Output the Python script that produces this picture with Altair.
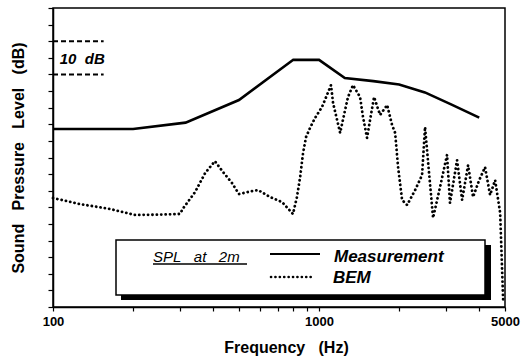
import altair as alt
import pandas as pd

# Measurement (solid)
meas_f = [100, 200, 315, 500, 800, 1000, 1250, 1600, 2000, 2500, 3150, 4000]
meas_db = [53.6, 53.6, 55.5, 62.3, 74.4, 74.4, 68.9, 68.0, 67.0, 64.6, 60.9, 57.0]

# BEM (dotted)
bem_f = [100, 126, 164, 203, 250, 300, 309, 342, 373, 406, 436, 471, 500, 560, 590,
         654, 726, 798, 826, 849, 871, 894, 925, 966, 1026, 1071, 1109, 1129, 1169,
         1200, 1253, 1285, 1342, 1426, 1463, 1515, 1555, 1610, 1696, 1803, 1881,
         1932, 1982, 2052, 2143, 2297, 2439, 2503, 2580, 2683, 2850, 3028, 3106,
         3302, 3450, 3633, 3793, 3990, 4207, 4395, 4590, 4795, 4920]
bem_db = [32.8, 31.0, 29.5, 27.7, 27.8, 28.0, 29.8, 34.6, 40.3, 43.9, 40.6, 37.3, 34.0,
          34.9, 35.2, 33.1, 31.6, 28.0, 33.1, 39.1, 46.4, 51.2, 53.9, 56.9, 60.2, 63.8,
          66.8, 61.4, 56.3, 52.4, 59.3, 63.2, 66.8, 63.2, 57.2, 50.9, 56.3, 63.2, 57.8,
          60.8, 54.8, 52.4, 42.1, 32.2, 30.7, 35.2, 39.7, 54.2, 42.0, 26.8, 36.1, 45.8,
          31.3, 44.2, 32.2, 42.7, 33.1, 38.0, 42.1, 33.7, 38.2, 28.3, 2.1]

# 10 dB scale marker
marker_db = [80, 70]
marker_f = [100, 155]

x_ticks = [100, 200, 300, 400, 500, 600, 700, 800, 900,
           1000, 2000, 3000, 4000, 5000]
x_labels = [100, 1000, 5000]
y_ticks = list(range(0, 91, 5))

NB = "\u00a0"
meas = pd.DataFrame({"f": meas_f, "db": meas_db})
bem = pd.DataFrame({"f": bem_f, "db": bem_db})
marker = pd.DataFrame({"f": [marker_f[0]] * 2, "f2": [marker_f[1]] * 2, "db": marker_db})
marker_txt = pd.DataFrame({"f": [106], "db": [74.6], "t": ["10" + NB + NB + "dB"]})

FONT = "Liberation Sans"
SP3 = NB * 3

X = alt.X("f:Q",
          scale=alt.Scale(type="log", domain=[100, 5000], nice=False),
          axis=alt.Axis(values=x_ticks, title="Frequency" + SP3 + "(Hz)",
                        labelExpr="indexof([100,1000,5000], datum.value) >= 0 ? datum.value : ''",
                        grid=False, tickSize=4, labelPadding=4, labelFont=FONT,
                        labelFontSize=13, labelFontWeight="bold", labelColor="black",
                        tickColor="black", domainColor="black", domainWidth=1.5,
                        tickWidth=1.2, titleFont=FONT, titleFontSize=16,
                        titleFontWeight="bold", titleColor="black",
                        titleX=233, titleY=45, titleBaseline="alphabetic",
                        labelFlush=False, labelOverlap=False))
Y = alt.Y("db:Q",
          scale=alt.Scale(domain=[0, 90], nice=False),
          axis=alt.Axis(values=y_ticks, labels=False, grid=False, tickSize=5,
                        tickColor="black", domainColor="black", domainWidth=1.5,
                        tickWidth=1.2,
                        title="Sound" + SP3 + "Pressure" + SP3 + "Level" + SP3 + "(dB)",
                        titleFont=FONT, titleFontSize=16, titleFontWeight="bold",
                        titleColor="black", titlePadding=21))

meas_line = alt.Chart(meas).mark_line(color="black", strokeWidth=2.6).encode(x=X, y=Y)
bem_line = alt.Chart(bem).mark_line(color="black", strokeWidth=2.8, strokeDash=[0.1, 4.3],
                                    strokeCap="round").encode(x=X, y=Y)
marker_rules = alt.Chart(marker).mark_rule(color="black", strokeWidth=2,
                                           strokeDash=[5, 3]).encode(x=X, x2="f2:Q", y=Y)
marker_text = alt.Chart(marker_txt).mark_text(font=FONT, fontSize=15, fontWeight="bold",
                                              fontStyle="italic", align="left",
                                              baseline="middle", color="black").encode(
    x=X, y=Y, text="t:N")

one = pd.DataFrame({"a": [0]})
# Legend box (annotation in pixel space)
shadow = alt.Chart(one).mark_rect(color="black").encode(
    x=alt.value(68), x2=alt.value(438), y=alt.value(237), y2=alt.value(292))
box = alt.Chart(one).mark_rect(fill="white", stroke="black", strokeWidth=1.5).encode(
    x=alt.value(63), x2=alt.value(432), y=alt.value(232), y2=alt.value(287))
leg_solid = alt.Chart(one).mark_rule(color="black", strokeWidth=2).encode(
    x=alt.value(217), x2=alt.value(267), y=alt.value(246))
leg_dot = alt.Chart(one).mark_rule(color="black", strokeWidth=2.6, strokeDash=[0.1, 4.3],
                                   strokeCap="round").encode(
    x=alt.value(218), x2=alt.value(260), y=alt.value(269))
underline = alt.Chart(one).mark_rule(color="black", strokeWidth=1.3).encode(
    x=alt.value(100), x2=alt.value(194), y=alt.value(256))
spl_txt = alt.Chart(one).mark_text(
    text="SPL" + SP3 + "at" + SP3 + "2m", font=FONT, fontSize=15, fontStyle="italic",
    align="left", baseline="alphabetic", color="black").encode(x=alt.value(100), y=alt.value(254))
meas_txt = alt.Chart(one).mark_text(
    text="Measurement", font=FONT, fontSize=17, fontStyle="italic", fontWeight="bold",
    align="left", baseline="alphabetic", color="black").encode(x=alt.value(281), y=alt.value(254))
bem_txt = alt.Chart(one).mark_text(
    text="BEM", font=FONT, fontSize=17, fontStyle="italic", fontWeight="bold",
    align="left", baseline="alphabetic", color="black").encode(x=alt.value(280), y=alt.value(275))

chart = alt.layer(
    meas_line, bem_line, marker_rules, marker_text,
    shadow, box, leg_solid, leg_dot, underline, spl_txt, meas_txt, bem_txt
).properties(
    width=452, height=299,
    autosize=alt.AutoSizeParams(type="none"),
    padding={"left": 53, "top": 8, "right": 19, "bottom": 49},
    background="white"
).configure_view(stroke="black", strokeWidth=1.5)

chart.save("out.html", embed_options={"renderer": "svg", "actions": False})
